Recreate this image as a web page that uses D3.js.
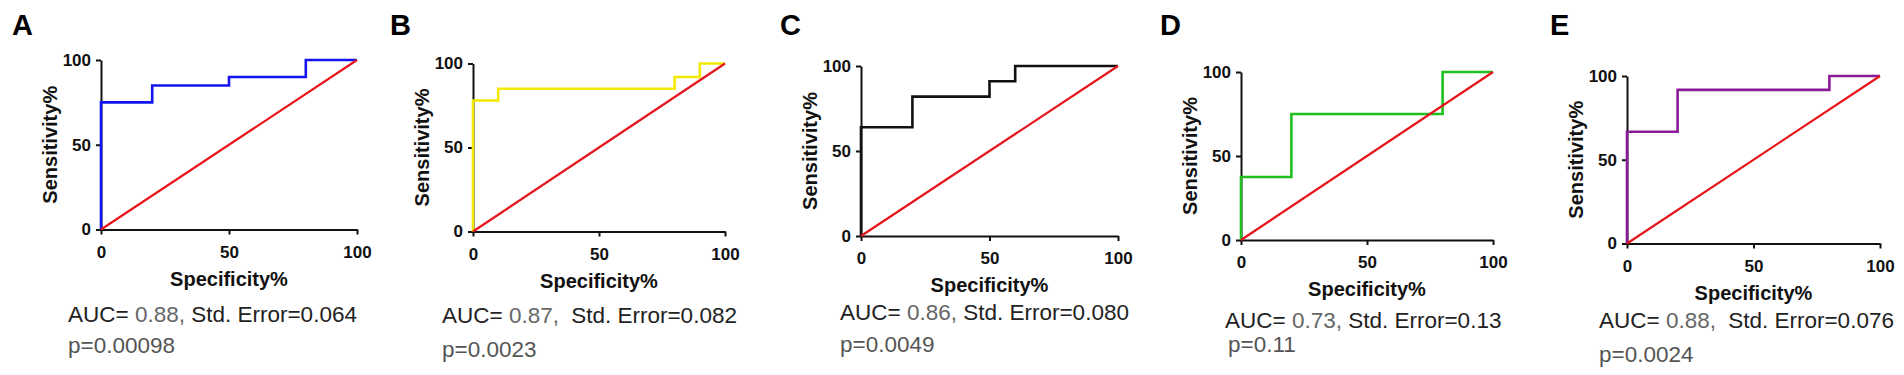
<!DOCTYPE html>
<html>
<head>
<meta charset="utf-8">
<script src="https://cdn.jsdelivr.net/npm/d3@7"></script>
<style>
  body { margin: 0; background: #fff; }
  svg { display: block; font-family: "Liberation Sans", Arial, sans-serif; }
  .tick text { font-size: 17px; font-weight: bold; fill: #111; }
  .axis path, .axis line { stroke: #111; stroke-width: 2px; }
  .axis-label { font-size: 20px; font-weight: bold; fill: #111; }
  .panel-letter { font-size: 29px; font-weight: bold; fill: #000; }
  .stats { font-size: 22.5px; }
</style>
</head>
<body>
<svg width="1904" height="375"></svg>
<script>
(function (d3) {
  'use strict';

  // ---- data ----
  const panelLetters = ['A', 'B', 'C', 'D', 'E'];
  const curveColors = ['#1414f0', '#f2ea00', '#111111', '#1fbf1f', '#8a1b98'];

  // ROC step curves, [specificity%, sensitivity%]
  const rocA = [[0, 0], [0, 75], [20, 75], [20, 85], [50, 85], [50, 90], [80, 90], [80, 100], [100, 100]];
  const rocB = [[0, 0], [0, 78], [10, 78], [10, 85], [80, 85], [80, 92], [90, 92], [90, 100], [100, 100]];
  const rocC = [[0, 0], [0, 64], [20, 64], [20, 82], [50, 82], [50, 91], [60, 91], [60, 100], [100, 100]];
  const rocD = [[0, 0], [0, 37.5], [20, 37.5], [20, 75], [80, 75], [80, 100], [100, 100]];
  const rocE = [[0, 0], [0, 66.7], [20, 66.7], [20, 91.7], [80, 91.7], [80, 100], [100, 100]];
  const rocCurves = [rocA, rocB, rocC, rocD, rocE];
  const chanceLine = [[0, 0], [100, 100]];

  const aucValues = ['0.88', '0.87', '0.86', '0.73', '0.88'];
  const stdErrors = ['0.064', '0.082', '0.080', '0.13', '0.076'];
  const pValues = ['0.00098', '0.0023', '0.0049', '0.11', '0.0024'];

  const xTicks = [0, 50, 100];
  const yTicks = [0, 50, 100];
  const xAxisLabel = 'Specificity%';
  const yAxisLabel = 'Sensitivity%';

  // ---- layout of each panel (pixels) ----
  const layout = [
    {x0: 101,  x1: 357,  y0: 229.5, y1: 60, lx: 12,   tx: 68,   ty: 322, px: 68,   py: 353, gap: 0},
    {x0: 473,  x1: 725,  y0: 231.5, y1: 63.5, lx: 390, tx: 442, ty: 323, px: 442,  py: 357, gap: 6},
    {x0: 861,  x1: 1118, y0: 236,   y1: 66, lx: 780,  tx: 840,  ty: 320, px: 840,  py: 352, gap: 0},
    {x0: 1241, x1: 1493, y0: 240,   y1: 72, lx: 1160, tx: 1225, ty: 328, px: 1228, py: 352, gap: 0},
    {x0: 1627, x1: 1880, y0: 243.5, y1: 76, lx: 1550, tx: 1599, ty: 328, px: 1599, py: 362, gap: 6}
  ];

  const svg = d3.select('svg');

  const render = (i) => {
    const L = layout[i];
    const g = svg.append('g');

    const xScale = d3.scaleLinear().domain([0, 100]).range([L.x0, L.x1]);
    const yScale = d3.scaleLinear().domain([0, 100]).range([L.y0, L.y1]);

    const xAxis = d3.axisBottom(xScale)
      .tickValues(xTicks)
      .tickSize(5)
      .tickSizeOuter(0)
      .tickPadding(11);
    const yAxis = d3.axisLeft(yScale)
      .tickValues(yTicks)
      .tickSize(5)
      .tickSizeOuter(0)
      .tickPadding(5);

    g.append('g').attr('class', 'axis')
      .attr('transform', `translate(0,${L.y0})`)
      .call(xAxis);
    g.append('g').attr('class', 'axis')
      .attr('transform', `translate(${L.x0},0)`)
      .call(yAxis);

    const line = d3.line()
      .x(d => xScale(d[0]))
      .y(d => yScale(d[1]));

    g.append('path')
      .attr('d', line(rocCurves[i]))
      .attr('fill', 'none')
      .attr('stroke', curveColors[i])
      .attr('stroke-width', 2.6);

    g.append('path')
      .attr('d', line(chanceLine))
      .attr('fill', 'none')
      .attr('stroke', '#e8141b')
      .attr('stroke-width', 2.2);

    // axis titles
    g.append('text')
      .attr('class', 'axis-label')
      .attr('x', (L.x0 + L.x1) / 2)
      .attr('y', L.y0 + 56)
      .attr('text-anchor', 'middle')
      .text(xAxisLabel);

    g.append('text')
      .attr('class', 'axis-label')
      .attr('transform', `translate(${L.x0 - 44},${(L.y0 + L.y1) / 2}) rotate(-90)`)
      .attr('text-anchor', 'middle')
      .text(yAxisLabel);

    // panel letter
    g.append('text')
      .attr('class', 'panel-letter')
      .attr('x', L.lx)
      .attr('y', 35)
      .text(panelLetters[i]);

    // stats
    const t = g.append('text')
      .attr('class', 'stats')
      .attr('x', L.tx)
      .attr('y', L.ty);
    t.append('tspan').attr('fill', '#222').text('AUC= ');
    t.append('tspan').attr('fill', '#666').text(aucValues[i] + ',');
    t.append('tspan').attr('fill', '#222').attr('dx', L.gap)
      .text(' Std. Error=' + stdErrors[i]);

    g.append('text')
      .attr('class', 'stats')
      .attr('x', L.px)
      .attr('y', L.py)
      .attr('fill', '#555')
      .text('p=' + pValues[i]);
  };

  panelLetters.forEach((_, i) => render(i));

}(d3));
</script>
</body>
</html>
